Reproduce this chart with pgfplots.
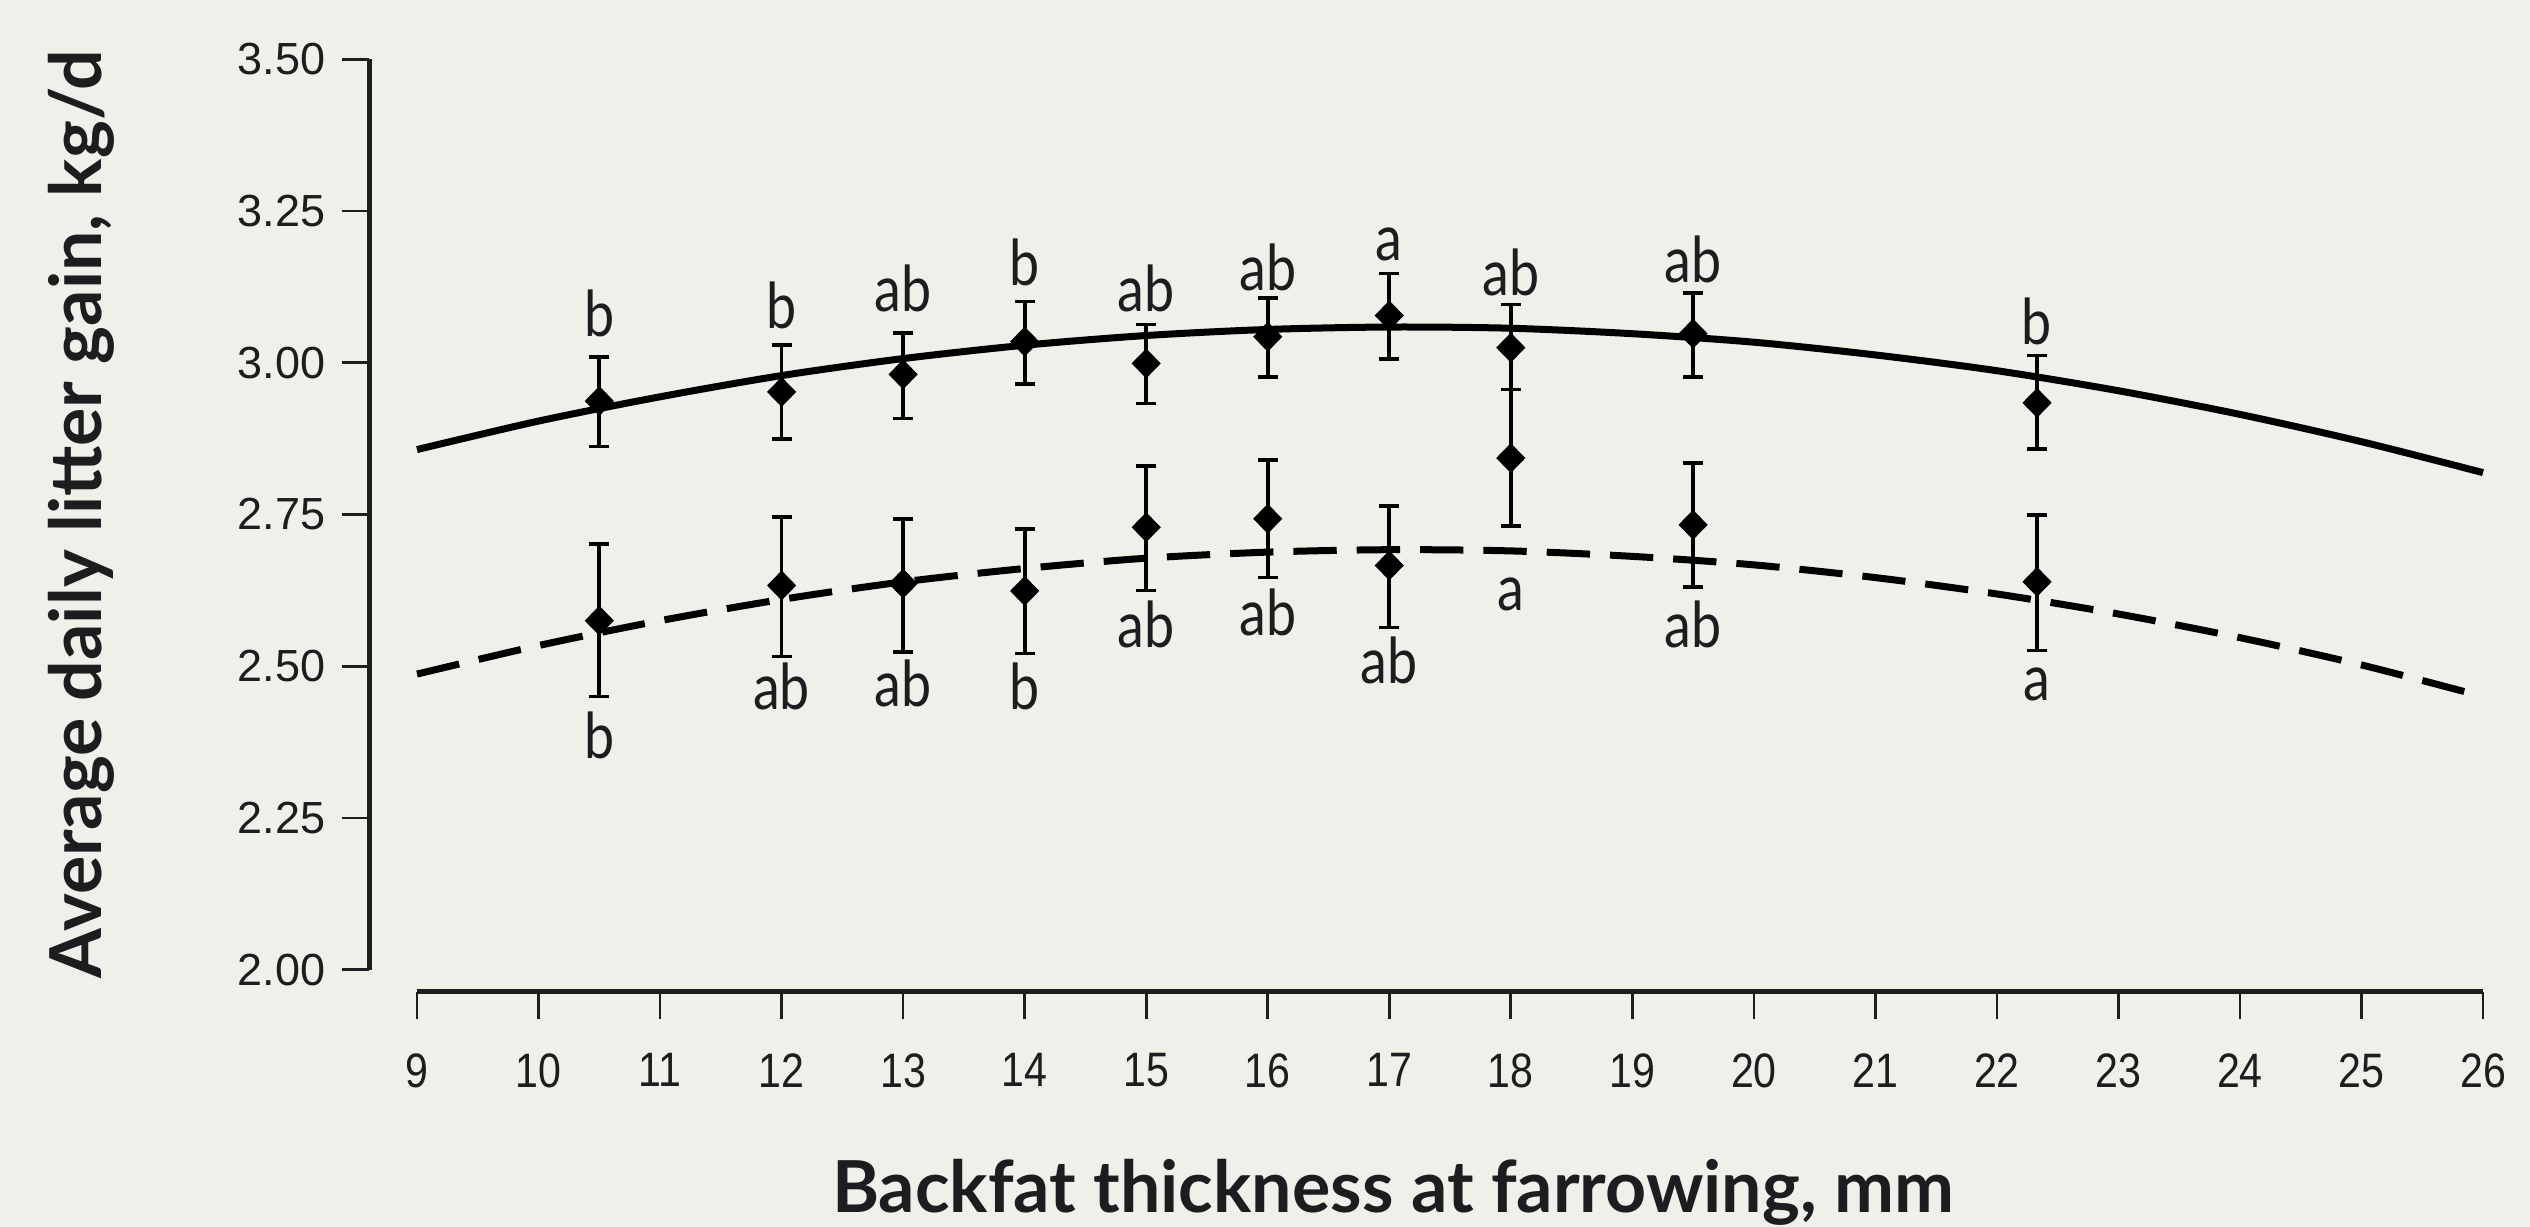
\documentclass[border=0pt]{standalone}
\usepackage{pgfplots}
\pgfplotsset{compat=1.18}
\usepackage{pgfplotstable}
\usepackage{fontspec}
\setmainfont{Liberation Sans}
\newfontfamily\narrowfont[FakeStretch=0.85]{Liberation Sans}
\newfontfamily\titlefont{Lato}
\newfontfamily\letterfont[FakeStretch=0.85]{Lato}
\definecolor{bg}{RGB}{239,240,234}
\definecolor{ink}{RGB}{30,28,30}

\pgfplotstableread{
x y ep em
10.5 2.937 0.073 0.075
12 2.952 0.077 0.077
13 2.981 0.068 0.073
14 3.035 0.066 0.070
15 2.999 0.064 0.066
16 3.043 0.064 0.066
17 3.078 0.069 0.072
18 3.025 0.071 0.069
19.5 3.048 0.067 0.071
22.33 2.934 0.078 0.076
}\uppertab
\pgfplotstableread{
x y ep em
10.5 2.575 0.126 0.125
12 2.633 0.113 0.117
13 2.636 0.107 0.113
14 2.624 0.102 0.103
15 2.729 0.101 0.104
16 2.743 0.097 0.097
17 2.666 0.098 0.102
18 2.843 0.113 0.112
19.5 2.733 0.102 0.103
22.33 2.639 0.110 0.113
}\lowertab

\begin{document}
\begin{tikzpicture}
\fill[bg] (0,0) rectangle (759pt,368.1pt);
\useasboundingbox (0,0) rectangle (759pt,368.1pt);
\begin{axis}[
  at={(110.7pt,70.5pt)}, anchor=south west,
  scale only axis, width=634.2pt, height=279.75pt,
  xmin=8.605, xmax=26, ymin=1.963, ymax=3.5,
  axis line style={draw=none},
  clip=false,
  xtick={9,10,...,26},
  ytick={2,2.25,2.5,2.75,3,3.25,3.5},
  tick align=outside, xtick pos=bottom, ytick pos=left,
  major tick length=8.1pt,
  tick style={line width=0.8pt, color=ink},
  /pgf/number format/assume math mode=true,
  yticklabel style={font=\fontsize{13.5}{13.5}\selectfont, color=ink, xshift=-1.5pt,
    /pgf/number format/fixed, /pgf/number format/fixed zerofill, /pgf/number format/precision=2},
  xticklabel style={font=\narrowfont\fontsize{14.5}{14.5}\selectfont, color=ink, yshift=-6.8pt},
]
\draw[line width=1.5pt, ink] (axis cs:8.605,2) -- (axis cs:8.605,3.5);
\draw[line width=1.5pt, ink] (axis cs:9,1.963) -- (axis cs:26,1.963);

\addplot[line width=2.1pt, black, smooth] coordinates {
(9,2.857) (10,2.904) (11,2.944) (12,2.979) (13,3.007) (14,3.029) (15,3.045) (16,3.055) (17,3.059)
(18,3.057) (19,3.048) (20,3.034) (21,3.013) (22,2.987) (23,2.954) (24,2.915) (25,2.870) (26,2.819)};
\addplot[line width=2.1pt, black, smooth, dash pattern=on 13pt off 6pt] coordinates {
(9,2.487) (10,2.534) (11,2.575) (12,2.610) (13,2.639) (14,2.661) (15,2.678) (16,2.688) (17,2.692)
(18,2.690) (19,2.681) (20,2.667) (21,2.646) (22,2.619) (23,2.586) (24,2.547) (25,2.502) (26,2.450)};

\addplot[only marks, mark=diamond*, mark size=4.2pt, mark options={xscale=1.3, fill=black, draw=black},
  error bars/.cd, y dir=both, y explicit,
  error bar style={line width=1.1pt, black},
  error mark options={rotate=90, mark size=3pt, line width=1.1pt, black}]
  table[x=x, y=y, y error plus=ep, y error minus=em] {\uppertab};
\addplot[only marks, mark=diamond*, mark size=4.2pt, mark options={xscale=1.3, fill=black, draw=black},
  error bars/.cd, y dir=both, y explicit,
  error bar style={line width=1.1pt, black},
  error mark options={rotate=90, mark size=3pt, line width=1.1pt, black}]
  table[x=x, y=y, y error plus=ep, y error minus=em] {\lowertab};

\begin{scope}[every node/.style={anchor=base, inner sep=0pt, text=ink, font=\letterfont\fontsize{19}{19}\selectfont}]
\node at (axis cs:10.5,3.043) {b};
\node at (axis cs:12,3.056) {b};
\node at (axis cs:13,3.084) {ab};
\node at (axis cs:14,3.128) {b};
\node at (axis cs:15,3.084) {ab};
\node at (axis cs:16,3.120) {ab};
\node at (axis cs:17,3.168) {a};
\node at (axis cs:18,3.111) {ab};
\node at (axis cs:19.5,3.133) {ab};
\node at (axis cs:22.33,3.030) {b};
\node at (axis cs:10.5,2.348) {b};
\node at (axis cs:12,2.428) {ab};
\node at (axis cs:13,2.434) {ab};
\node at (axis cs:14,2.428) {b};
\node at (axis cs:15,2.531) {ab};
\node at (axis cs:16,2.550) {ab};
\node at (axis cs:17,2.472) {ab};
\node at (axis cs:18,2.592) {a};
\node at (axis cs:19.5,2.531) {ab};
\node at (axis cs:22.33,2.444) {a};
\end{scope}
\end{axis}
\node[anchor=base, inner sep=0pt, text=ink, font=\titlefont\bfseries\fontsize{21.5}{21.5}\selectfont] at (417.9pt,4.2pt) {Backfat thickness at farrowing, mm};
\node[anchor=base, rotate=90, inner sep=0pt, text=ink, font=\titlefont\bfseries\fontsize{21.5}{21.5}\selectfont] at (30.5pt,213.75pt) {Average daily litter gain, kg/d};
\end{tikzpicture}
\end{document}
